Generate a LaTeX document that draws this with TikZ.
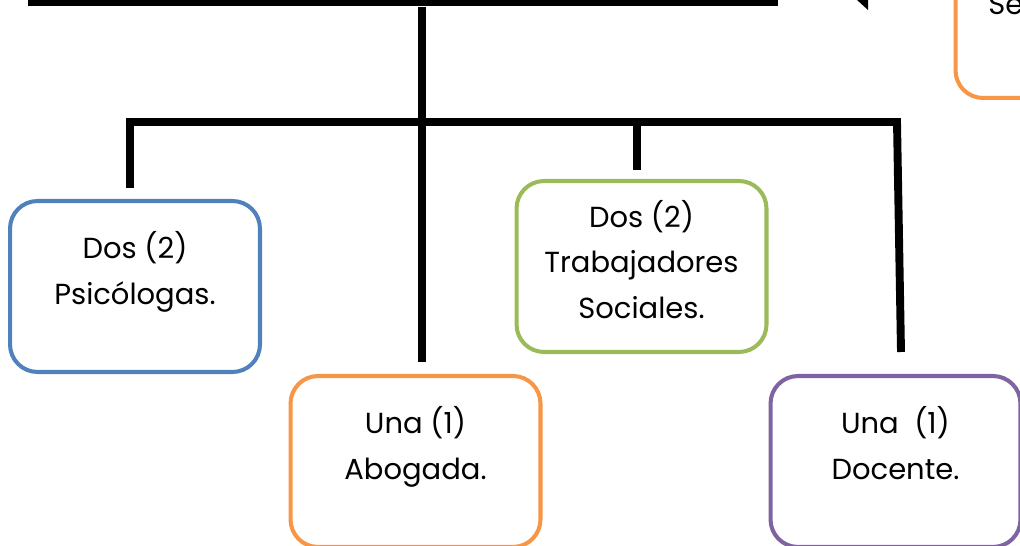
\documentclass[tikz,border=0pt]{standalone}
\usepackage{fontspec}
\setmainfont{Poppins}
\usetikzlibrary{positioning}
\definecolor{azul}{HTML}{4F81BD}
\definecolor{verde}{HTML}{9BBB59}
\definecolor{naranja}{HTML}{F79646}
\definecolor{morado}{HTML}{8064A2}

\begin{document}
\begin{tikzpicture}[x=0.02cm,y=-0.02cm,
  caja/.style={draw,line width=2.3pt,rounded corners=0.55cm,minimum width=5cm,minimum height=3.42cm},
  texto/.style={align=center,font=\fontsize{16.5}{26}\selectfont,yshift=8.5pt},
  linea/.style={line width=4.5pt}]
\useasboundingbox (0,0) rectangle (1020,546);
\clip (0,0) rectangle (1020,546);
\foreach \n/\x/\y/\c in {psi/135/286.5/azul, trab/641.5/266.5/verde, abog/415.5/461.5/naranja, doc/895.5/461.5/morado}
\node[caja,draw=\c](\n) at (\x,\y){};
\node[texto](psiT) at (psi){Dos (2)\\Psicólogas.};
\node[texto,yshift=-4.5pt](trabT) at (trab){Dos (2)\\Trabajadores\\Sociales.};
\node[texto](abogT) at (abog){Una (1)\\Abogada.};
\node[texto,yshift=2pt](docT) at (doc){Una~~(1)\\Docente.};
\node[caja,draw=naranja](sec) at (1080.5,12.5){};
\node[anchor=base west,font=\fontsize{16.5}{26}\selectfont,inner sep=0pt](secT) at (988,15){Se};
% lineas
\coordinate (arriba) at (422,7);
\coordinate (psiA) at (130,188);
\coordinate (trabA) at (637,170);
\coordinate (abogA) at (422,362);
\coordinate (docA) at (901,352);
\draw[line width=3.4pt] (28,3) -- (778,3);
\draw[linea] (arriba) -- (abogA);
\draw[linea] (psiA) -- (psiA|-0,122) -- (897,122) -- (docA);
\draw[linea] (trabA) -- (trabA|-0,122);
\fill (857,0) -- (868,0) -- (868,10) -- cycle;
\end{tikzpicture}
\end{document}
